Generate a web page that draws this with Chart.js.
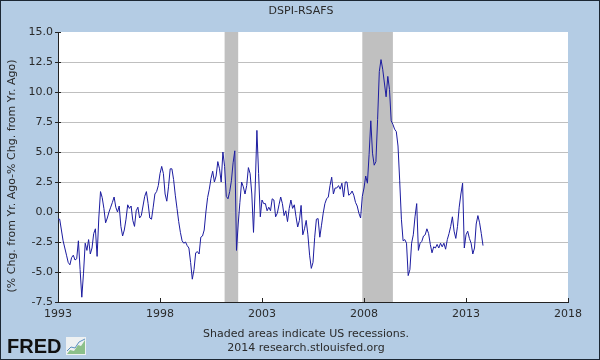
<!DOCTYPE html>
<html>
<head>
<meta charset="utf-8">
<script src="https://cdn.jsdelivr.net/npm/chart.js@4.4.1/dist/chart.umd.min.js"></script>
<style>
  html, body { margin: 0; padding: 0; background: #b4cce4; }
  #myChart { display: block; }
</style>
</head>
<body>
<canvas id="myChart" width="600" height="360"></canvas>
<script>
// Setup
const title = 'DSPI-RSAFS';
const yTitle = '(% Chg. from Yr. Ago-% Chg. from Yr. Ago)';
const notes = ['Shaded areas indicate US recessions.', '2014 research.stlouisfed.org'];
const startYear = 1993; // monthly, starting Jan 1993
const values = [
  -0.6, -0.6, -1.5, -2.4, -3.0, -3.6, -4.2, -4.4, -3.8, -3.6, -4.0, -3.9,
  -2.4, -4.8, -7.1, -5.1, -2.6, -3.2, -2.3, -3.5, -3.0, -1.8, -1.4, -3.7,
  -0.5, 1.7, 1.2, 0.3, -0.9, -0.5, 0.0, 0.4, 0.8, 1.25, 0.4, 0.0,
  0.5, -1.2, -2.0, -1.5, -0.6, 0.6, 0.3, 0.5, -0.7, -1.2, 0.1, 0.4,
  -0.5, -0.3, 0.5, 1.3, 1.7, 0.7, -0.5, -0.6, 0.4, 1.5, 1.7, 2.2,
  3.2, 3.8, 3.2, 1.5, 0.9, 2.1, 3.6, 3.6, 2.7, 1.4, 0.3, -0.8,
  -1.7, -2.4, -2.6, -2.5, -2.8, -3.0, -4.2, -5.6, -4.8, -3.4, -3.3, -3.5,
  -2.1, -2.0, -1.5, 0.0, 1.2, 1.9, 2.8, 3.4, 2.5, 3.0, 4.2, 3.6,
  2.5, 5.0, 3.8, 1.3, 1.1, 1.7, 2.6, 4.1, 5.1, -3.2, -1.0, 0.8,
  2.5, 2.1, 1.5, 2.2, 3.7, 3.2, 1.5, -1.7, 2.0, 6.8, 3.2, -0.4,
  1.0, 0.7, 0.7, 0.1, 0.4, 0.1, 1.1, 1.0, -0.4, -0.1, 0.6, 1.25,
  0.7, -0.3, 0.1, -0.8, 0.3, 1.0, 0.3, 0.6, -0.4, -1.25, -0.7, 0.55,
  -1.9, -1.4, -0.7, -1.9, -3.6, -4.7, -4.2, -2.1, -0.6, -0.55, -2.1, -1.1,
  -0.1, 0.7, 1.1, 1.25, 2.2, 2.9, 1.5, 2.0, 2.0, 2.2, 1.9, 2.4,
  1.25, 2.5, 2.5, 1.4, 1.5, 1.75, 1.4, 0.8, 0.5, -0.1, -0.5, 1.3,
  2.0, 3.0, 2.4, 4.8, 7.6, 4.9, 3.9, 4.2, 7.7, 11.7, 12.7, 11.9,
  10.75, 9.6, 11.3, 10.2, 7.6, 7.3, 6.9, 6.7, 5.5, 2.6, -0.6, -2.4,
  -2.3, -2.6, -5.3, -4.8, -2.6, -1.9, -0.4, 0.7, -3.2, -2.6, -2.45, -2.0,
  -1.9, -1.4, -1.8, -2.7, -3.4, -2.9, -3.0, -2.7, -3.0, -2.6, -2.9, -2.6,
  -3.1, -2.3, -1.8, -1.2, -0.4, -1.6, -2.2, -1.2, 0.4, 1.5, 2.4, -3.0,
  -1.9, -1.6, -2.2, -2.6, -3.5, -3.0, -1.0, -0.3, -0.9, -1.8, -2.8
];
const xTicks = [1993, 1998, 2003, 2008, 2013, 2018];
const yTicks = [-7.5, -5.0, -2.5, 0.0, 2.5, 5.0, 7.5, 10.0, 12.5, 15.0];
const recessionStart = [2001 + 2 / 12, 2007 + 11 / 12];
const recessionEnd = [2001 + 10 / 12, 2009 + 5 / 12];

const font = 'DejaVu Sans';
const textColor = '#2a2a2a';

const points = values.map(function (v, i) {
  return { x: startYear + i / 12, y: v };
});

// draws backgrounds, recession shading, tick marks, texts and the logo
const fredPlugin = {
  id: 'fred',
  beforeDraw: function (chart) {
    const ctx = chart.ctx;
    const a = chart.chartArea;
    ctx.save();
    ctx.fillStyle = '#b4cce4';
    ctx.fillRect(0, 0, chart.width, chart.height);
    ctx.fillStyle = '#ffffff';
    ctx.fillRect(a.left, a.top, a.right - a.left, a.bottom - a.top);
    ctx.restore();
  },
  beforeDatasetsDraw: function (chart) {
    const ctx = chart.ctx;
    const a = chart.chartArea;
    const x = chart.scales.x;
    ctx.save();
    ctx.fillStyle = '#c0c0c0';
    for (let i = 0; i < recessionStart.length; i++) {
      const x0 = x.getPixelForValue(recessionStart[i]);
      const x1 = x.getPixelForValue(recessionEnd[i]);
      ctx.fillRect(x0, a.top, x1 - x0, a.bottom - a.top);
    }
    ctx.restore();
  },
  afterDraw: function (chart) {
    const ctx = chart.ctx;
    const a = chart.chartArea;
    const x = chart.scales.x;
    const y = chart.scales.y;
    ctx.save();

    // tick marks
    ctx.strokeStyle = '#222';
    ctx.lineWidth = 1;
    ctx.beginPath();
    xTicks.forEach(function (t) {
      const px = Math.round(x.getPixelForValue(t)) + 0.5;
      ctx.moveTo(px, a.bottom);
      ctx.lineTo(px, a.bottom - 4);
    });
    yTicks.forEach(function (t) {
      const py = Math.round(y.getPixelForValue(t)) + 0.5;
      ctx.moveTo(a.left - 3, py);
      ctx.lineTo(a.left + 3, py);
    });
    ctx.stroke();

    // texts
    ctx.fillStyle = textColor;
    ctx.textAlign = 'center';
    ctx.textBaseline = 'middle';
    ctx.font = '11px "' + font + '"';
    ctx.fillText(title, 301, 11);
    ctx.fillText(notes[0], 306, 334);
    ctx.fillText(notes[1], 306, 348);

    ctx.save();
    ctx.translate(12, 176);
    ctx.rotate(-Math.PI / 2);
    ctx.fillText(yTitle, 0, 0);
    ctx.restore();

    // logo
    ctx.fillStyle = '#111';
    ctx.textAlign = 'left';
    ctx.textBaseline = 'alphabetic';
    ctx.font = 'bold 20px "Liberation Sans"';
    ctx.fillText('FRED', 7, 353);
    ctx.fillStyle = '#eef1f2';
    ctx.fillRect(66, 337, 20, 18);
    ctx.fillStyle = '#8cc08a';
    ctx.beginPath();
    ctx.moveTo(67, 354);
    ctx.lineTo(70, 350);
    ctx.lineTo(74, 351);
    ctx.lineTo(78, 345);
    ctx.lineTo(81, 346);
    ctx.lineTo(85, 340);
    ctx.lineTo(85, 354);
    ctx.closePath();
    ctx.fill();
    ctx.strokeStyle = '#5a8fc0';
    ctx.beginPath();
    ctx.moveTo(67, 351);
    ctx.lineTo(71, 347);
    ctx.lineTo(75, 348);
    ctx.lineTo(79, 342);
    ctx.lineTo(85, 339);
    ctx.stroke();

    // frame
    ctx.strokeStyle = '#1c2733';
    ctx.strokeRect(0.5, 0.5, chart.width - 1, chart.height - 1);
    ctx.restore();
  }
};

// Config block
const config = {
  type: 'line',
  data: {
    datasets: [
      {
        data: points,
        borderColor: '#1c1ca0',
        borderWidth: 1,
        pointRadius: 0,
        tension: 0,
        fill: false,
      },
    ],
  },
  options: {
    responsive: false,
    animation: false,
    layout: { padding: { left: 0, right: 32, top: 32, bottom: 0 } },
    plugins: {
      legend: { display: false },
      tooltip: { enabled: false },
    },
    scales: {
      x: {
        type: 'linear',
        min: 1993,
        max: 2018,
        afterBuildTicks: function (s) {
          s.ticks = xTicks.map(function (v) { return { value: v }; });
        },
        afterFit: function (s) { s.height = 58; },
        grid: { display: false, drawTicks: false },
        border: { display: true, color: '#222', width: 1 },
        ticks: {
          color: textColor,
          font: { family: font, size: 11 },
          padding: 6,
          maxRotation: 0,
          autoSkip: false,
          callback: function (v) { return String(v); },
        },
      },
      y: {
        min: -7.5,
        max: 15,
        afterBuildTicks: function (s) {
          s.ticks = yTicks.map(function (v) { return { value: v }; });
        },
        afterFit: function (s) { s.width = 58; },
        grid: {
          drawTicks: false,
          color: function (c) { return c.tick && c.tick.value === 15 ? 'rgba(0,0,0,0)' : '#bfbfbf'; },
        },
        border: { display: true, color: '#222', width: 1 },
        ticks: {
          color: textColor,
          font: { family: font, size: 11 },
          padding: 5,
          callback: function (v) { return v.toFixed(1); },
        },
      },
    },
  },
  plugins: [fredPlugin],
};

// init / render block
const myChart = new Chart(document.getElementById('myChart'), config);
</script>
</body>
</html>
